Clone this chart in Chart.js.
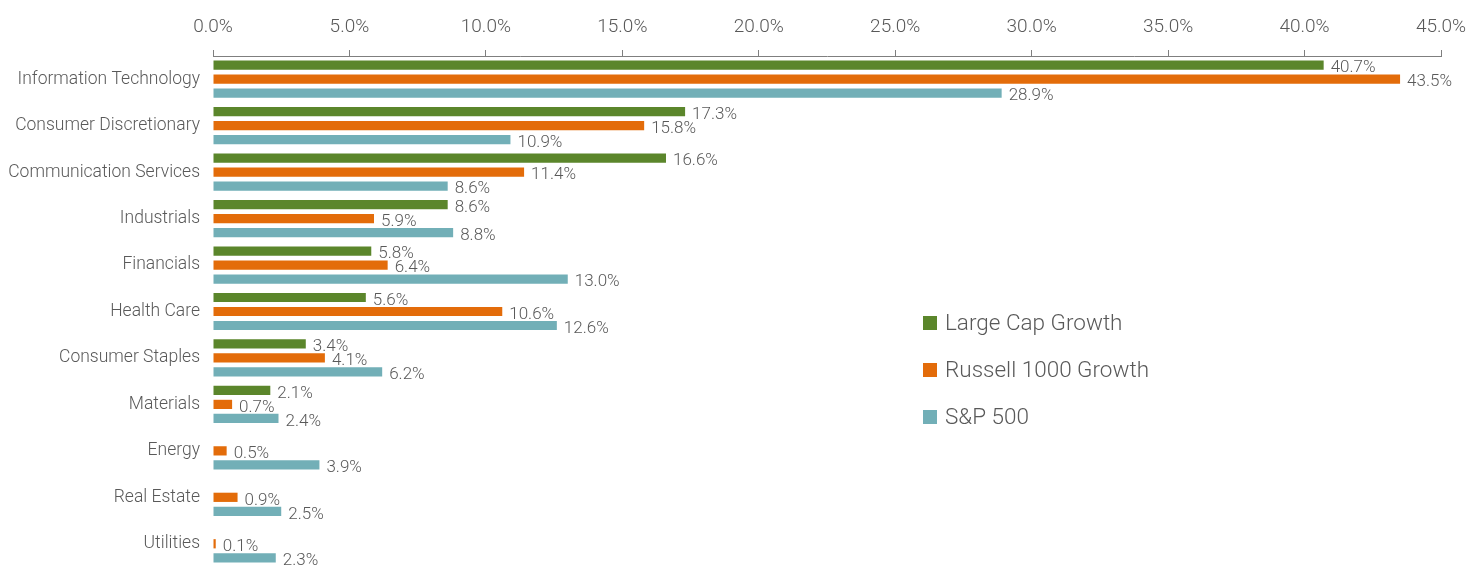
<!DOCTYPE html>
<html>
<head>
<meta charset="utf-8">
<script src="https://cdn.jsdelivr.net/npm/chart.js@4/dist/chart.umd.min.js"></script>
<style>
  html, body { margin: 0; padding: 0; background: #ffffff; overflow: hidden; }
  #wrap { position: relative; width: 1469px; height: 567px; }
</style>
</head>
<body>
<div id="wrap"><canvas id="c" width="1469" height="567"></canvas></div>
<script>
const categories = ["Information Technology", "Consumer Discretionary", "Communication Services", "Industrials", "Financials", "Health Care", "Consumer Staples", "Materials", "Energy", "Real Estate", "Utilities"];
const seriesNames = ["Large Cap Growth", "Russell 1000 Growth", "S&P 500"];
const largeCapGrowth = [40.7, 17.3, 16.6, 8.6, 5.8, 5.6, 3.4, 2.1, null, null, null];
const russell1000Growth = [43.5, 15.8, 11.4, 5.9, 6.4, 10.6, 4.1, 0.7, 0.5, 0.9, 0.1];
const sp500 = [28.9, 10.9, 8.6, 8.8, 13.0, 12.6, 6.2, 2.4, 3.9, 2.5, 2.3];
const xTicks = [0, 5, 10, 15, 20, 25, 30, 35, 40, 45];
const colors = ["#5B862B", "#E36C0A", "#72AFB7"];

const FONT = "Roboto, 'Open Sans', sans-serif";
const TEXT = "#595959";

const valueLabels = {
  id: "valueLabels",
  afterDatasetsDraw(chart) {
    const ctx = chart.ctx;
    ctx.save();
    ctx.font = "300 17px " + FONT;
    ctx.fillStyle = TEXT;
    ctx.textAlign = "left";
    ctx.textBaseline = "middle";
    chart.data.datasets.forEach((ds, di) => {
      const meta = chart.getDatasetMeta(di);
      meta.data.forEach((el, i) => {
        const v = ds.data[i];
        if (v === null || v === undefined) return;
        ctx.fillText(v.toFixed(1) + "%", el.x + 7, el.y + 3);
      });
    });
    ctx.restore();
  }
};

const innerLegend = {
  id: "innerLegend",
  afterDraw(chart) {
    const ctx = chart.ctx;
    ctx.save();
    ctx.font = "300 22.5px " + FONT;
    ctx.textAlign = "left";
    ctx.textBaseline = "middle";
    chart.data.datasets.forEach((ds, i) => {
      const y = 323 + i * 47;
      ctx.fillStyle = ds.backgroundColor;
      ctx.fillRect(923, y - 7, 14, 14);
      ctx.fillStyle = TEXT;
      ctx.fillText(ds.label, 945, y + 1);
    });
    ctx.restore();
  }
};

new Chart(document.getElementById("c"), {
  type: "bar",
  data: {
    labels: categories,
    datasets: [
      { label: seriesNames[0], data: largeCapGrowth, backgroundColor: colors[0] },
      { label: seriesNames[1], data: russell1000Growth, backgroundColor: colors[1] },
      { label: seriesNames[2], data: sp500, backgroundColor: colors[2] }
    ]
  },
  options: {
    indexAxis: "y",
    responsive: false,
    animation: false,
    maintainAspectRatio: false,
    datasets: { bar: { categoryPercentage: 0.904, barPercentage: 0.66 } },
    layout: { padding: { left: 0, right: 28, top: 0, bottom: 0 } },
    plugins: { legend: { display: false }, tooltip: { enabled: false } },
    scales: {
      x: {
        position: "top",
        min: 0,
        max: 45,
        afterBuildTicks(scale) { scale.ticks = xTicks.map(v => ({ value: v })); },
        afterFit(scale) { scale.height = 56; scale.paddingLeft = 0; scale.paddingRight = 0; },
        ticks: {
          color: TEXT,
          font: { family: FONT, size: 19, weight: 300 },
          padding: 11,
          callback: (v) => Number(v).toFixed(1) + "%"
        },
        grid: { drawOnChartArea: false, drawTicks: true, tickLength: 6, color: "#7F7F7F", lineWidth: 1 },
        border: { display: true, color: "#7F7F7F", width: 1 }
      },
      y: {
        afterFit(scale) { scale.width = 213; scale.paddingTop = 0; scale.paddingBottom = 0; },
        ticks: { color: TEXT, font: { family: FONT, size: 17.5, weight: 300 }, padding: 13 },
        grid: { display: false, drawTicks: false },
        border: { display: false }
      }
    }
  },
  plugins: [valueLabels, innerLegend]
});
</script>
</body>
</html>
